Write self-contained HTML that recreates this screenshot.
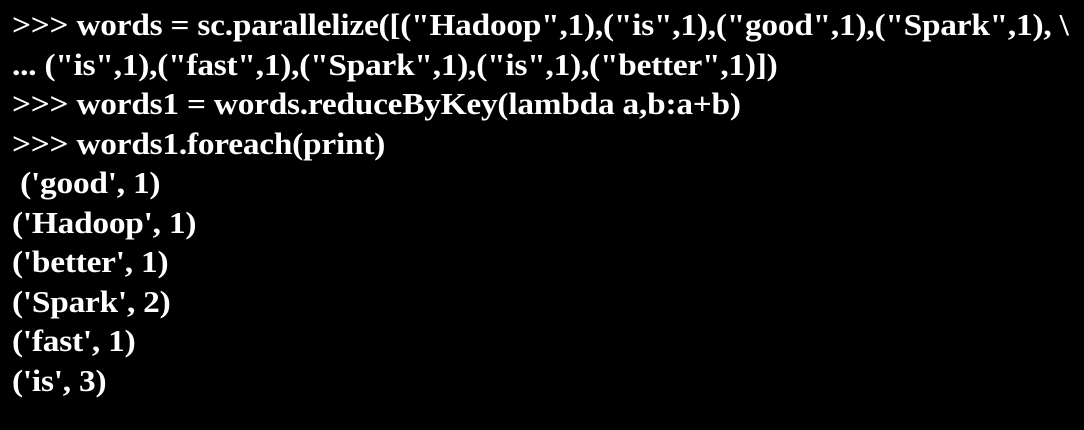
<!DOCTYPE html>
<html><head><meta charset="utf-8"><style>
html,body{margin:0;padding:0;background:#000;width:1084px;height:430px;overflow:hidden}
pre{margin:0;position:absolute;left:12px;top:5px;font-family:"Liberation Serif",serif;font-weight:bold;font-size:31px;line-height:39.5px;color:#fff;white-space:pre;letter-spacing:-0.2px;transform:scaleX(1.075);transform-origin:0 0}
</style></head><body>
<pre>&gt;&gt;&gt; words = sc.parallelize([("Hadoop",1),("is",1),("good",1),("Spark",1), \
... ("is",1),("fast",1),("Spark",1),("is",1),("better",1)])
&gt;&gt;&gt; words1 = words.reduceByKey(lambda a,b:a+b)
&gt;&gt;&gt; words1.foreach(print)
 ('good', 1)
('Hadoop', 1)
('better', 1)
('Spark', 2)
('fast', 1)
('is', 3)</pre>
</body></html>
